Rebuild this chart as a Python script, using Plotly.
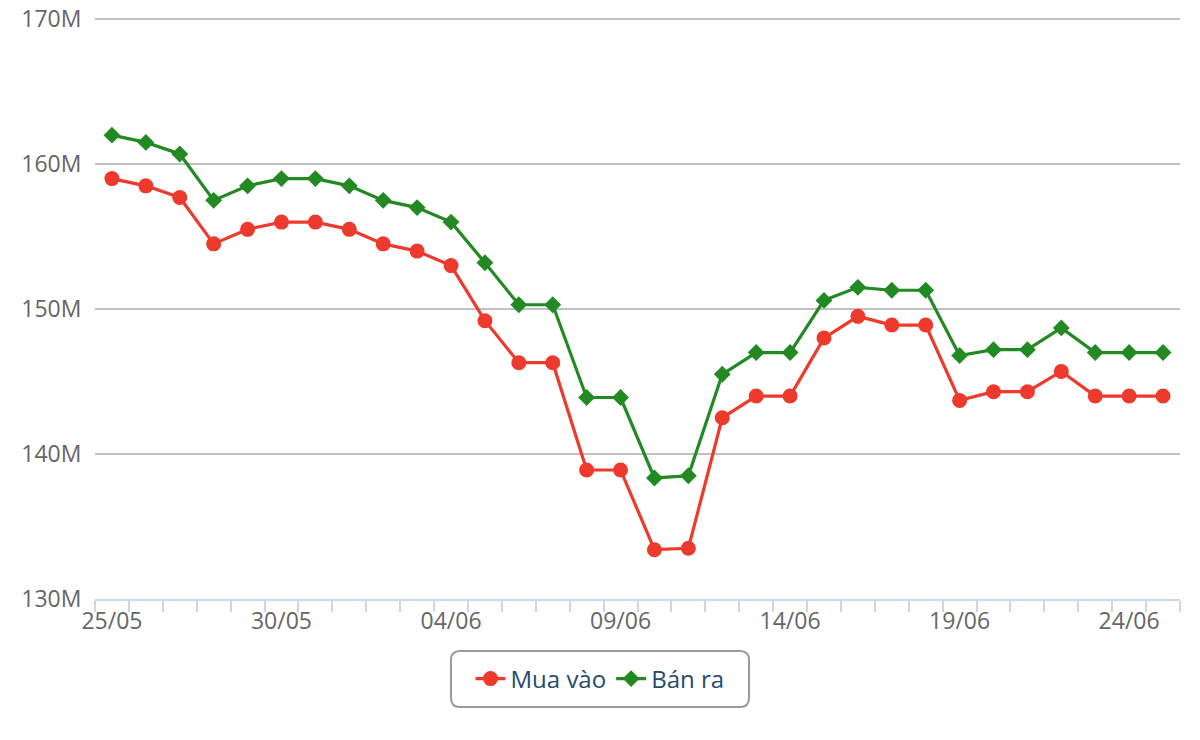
import plotly.graph_objects as go

dates = ["25/05", "26/05", "27/05", "28/05", "29/05", "30/05", "31/05", "01/06",
         "02/06", "03/06", "04/06", "05/06", "06/06", "07/06", "08/06", "09/06",
         "10/06", "11/06", "12/06", "13/06", "14/06", "15/06", "16/06", "17/06",
         "18/06", "19/06", "20/06", "21/06", "22/06", "23/06", "24/06", "25/06"]

mua_vao = [159.0, 158.5, 157.7, 154.5, 155.5, 156.0, 156.0, 155.5,
           154.5, 154.0, 153.0, 149.2, 146.3, 146.3, 138.9, 138.9,
           133.4, 133.5, 142.5, 144.0, 144.0, 148.0, 149.5, 148.9,
           148.9, 143.7, 144.3, 144.3, 145.7, 144.0, 144.0, 144.0]

ban_ra = [162.0, 161.5, 160.7, 157.5, 158.5, 159.0, 159.0, 158.5,
          157.5, 157.0, 156.0, 153.2, 150.3, 150.3, 143.9, 143.9,
          138.35, 138.5, 145.5, 147.0, 147.0, 150.6, 151.5, 151.3,
          151.3, 146.8, 147.2, 147.2, 148.7, 147.0, 147.0, 147.0]

y_ticks = [130, 140, 150, 160, 170]
y_tick_labels = ["130M", "140M", "150M", "160M", "170M"]

x_idx = list(range(len(dates)))
label_idx = x_idx[::5]

FONT = "Open Sans"
M_L, M_R, M_T, M_B = 95, 20, 18, 141
PLOT_W = 1200 - M_L - M_R
PLOT_H = 740 - M_T - M_B


def rounded_rect(x0, y0, x1, y1, r):
    rx = r / PLOT_W
    ry = r / PLOT_H
    return (f"M {x0+rx},{y0} L {x1-rx},{y0} Q {x1},{y0} {x1},{y0+ry} "
            f"L {x1},{y1-ry} Q {x1},{y1} {x1-rx},{y1} "
            f"L {x0+rx},{y1} Q {x0},{y1} {x0},{y1-ry} "
            f"L {x0},{y0+ry} Q {x0},{y0} {x0+rx},{y0} Z")


fig = go.Figure()
fig.add_trace(go.Scatter(
    x=x_idx, y=mua_vao, name="Mua vào", mode="lines+markers",
    line=dict(color="#ee3a2c", width=3.2),
    marker=dict(symbol="circle", size=15, color="#ee3a2c"),
))
fig.add_trace(go.Scatter(
    x=x_idx, y=ban_ra, name="Bán ra", mode="lines+markers",
    line=dict(color="#238a23", width=3.2),
    marker=dict(symbol="diamond", size=13, color="#238a23"),
))

# legend frame with rounded corners (paper coordinates)
bottom_px = 740 - M_B
lx0 = (451 - M_L) / PLOT_W
lx1 = (749 - M_L) / PLOT_W
ly0 = (bottom_px - 707) / PLOT_H
ly1 = (bottom_px - 651) / PLOT_H
fig.add_shape(type="path", xref="paper", yref="paper",
              path=rounded_rect(lx0, ly0, lx1, ly1, 9),
              line=dict(color="#999999", width=2), fillcolor="white",
              layer="below")

fig.update_layout(
    width=1200, height=740,
    margin=dict(l=M_L, r=M_R, t=M_T, b=M_B),
    paper_bgcolor="white", plot_bgcolor="white",
    font=dict(family=FONT, color="#666666"),
    showlegend=True,
    legend=dict(
        orientation="h", x=(600 - M_L) / PLOT_W, xanchor="center",
        y=(bottom_px - 679) / PLOT_H, yanchor="middle",
        borderwidth=0, bgcolor="rgba(0,0,0,0)",
        font=dict(family=FONT, size=24, color="#274b6d"),
        itemwidth=30,
    ),
    xaxis=dict(
        range=[-0.5, len(dates) - 0.5],
        tickvals=label_idx,
        ticktext=[dates[i] for i in label_idx],
        ticks="", showgrid=False, zeroline=False, automargin=False,
        showline=True, linecolor="#ccd6eb", linewidth=2,
        tickfont=dict(family=FONT, size=23, color="#666666"),
        minor=dict(ticks="outside", tick0=-0.5, dtick=1, ticklen=11,
                   tickcolor="#ccd6eb", tickwidth=2, showgrid=False),
    ),
    yaxis=dict(
        range=[130, 170.08], automargin=False,
        tickvals=y_ticks, ticktext=y_tick_labels,
        showgrid=True, gridcolor="#c0c0c0", gridwidth=1.5,
        zeroline=False, showline=False,
        tickfont=dict(family=FONT, size=23, color="#666666"),
        ticks="outside", ticklen=8, tickcolor="white",
    ),
)

fig.write_html("out.html")
